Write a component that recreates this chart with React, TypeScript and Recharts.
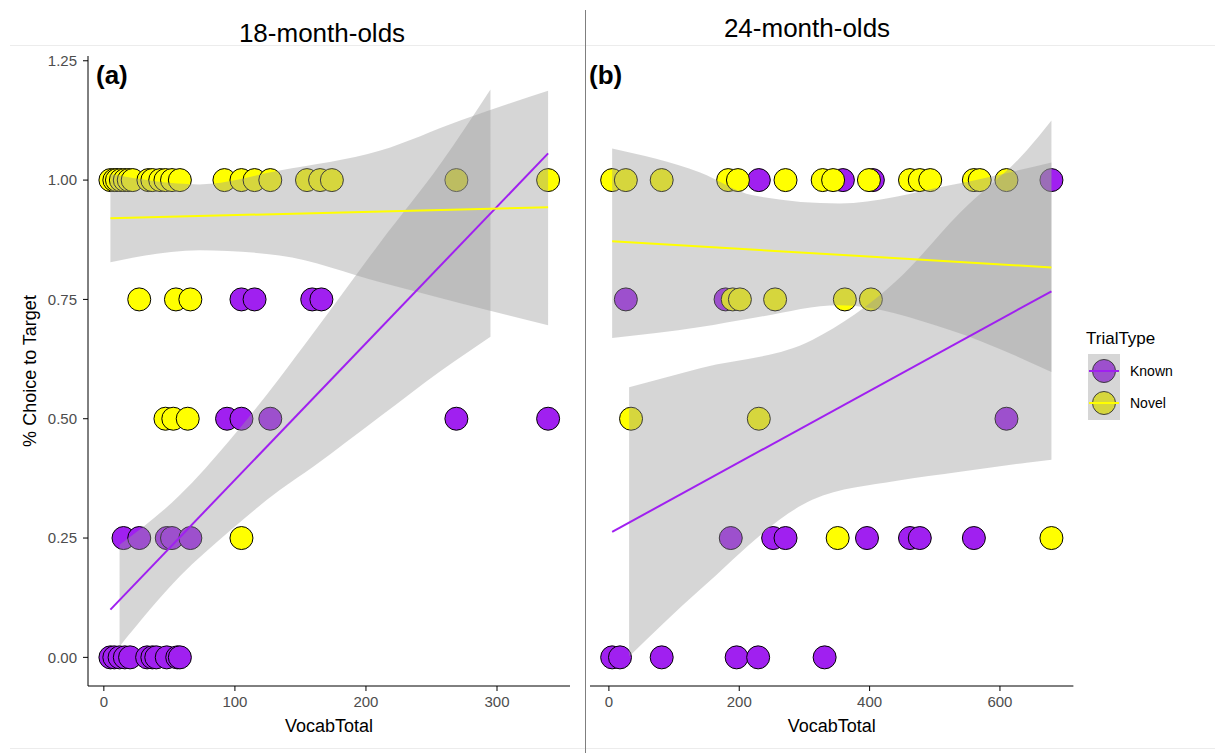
import React from 'react';
import { ComposedChart, Scatter, Area, Line, XAxis, YAxis } from 'recharts';

const PURPLE = '#A020F0';
const YELLOW = '#FFFF00';
const RIBBON = '#999999';
const FONT = '"Liberation Sans", Arial, sans-serif';

const yTicks = [0, 0.25, 0.5, 0.75, 1, 1.25];
const yDomain = [-0.06, 1.26];
const xTicks18 = [0, 100, 200, 300];
const xTicks24 = [0, 200, 400, 600];
const xDomain18 = [-12.1, 355.7];
const xDomain24 = [-29, 712.7];

const panelTitles = ['18-month-olds', '24-month-olds'];
const panelTags = ['(a)', '(b)'];
const xTitle = 'VocabTotal';
const yTitle = '% Choice to Target';
const legendTitle = 'TrialType';
const legendItems = [
  { label: 'Known', color: PURPLE },
  { label: 'Novel', color: YELLOW },
];

// ---- Panel (a): 18-month-olds ----
const known18 = [
  { x: 5, y: 0 }, { x: 8, y: 0 }, { x: 12, y: 0 }, { x: 16, y: 0 }, { x: 20, y: 0 },
  { x: 33, y: 0 }, { x: 37, y: 0 }, { x: 40, y: 0 }, { x: 48, y: 0 }, { x: 56, y: 0 }, { x: 58, y: 0 },
  { x: 15, y: 0.25 }, { x: 27, y: 0.25 }, { x: 48, y: 0.25 }, { x: 52, y: 0.25 }, { x: 66, y: 0.25 },
  { x: 94, y: 0.5 }, { x: 105, y: 0.5 }, { x: 127, y: 0.5 }, { x: 269, y: 0.5 }, { x: 339, y: 0.5 },
  { x: 105, y: 0.75 }, { x: 115, y: 0.75 }, { x: 159, y: 0.75 }, { x: 166, y: 0.75 },
];
const novel18 = [
  { x: 5, y: 1 }, { x: 8, y: 1 }, { x: 10, y: 1 }, { x: 13, y: 1 }, { x: 16, y: 1 }, { x: 19, y: 1 }, { x: 22, y: 1 },
  { x: 34, y: 1 }, { x: 37, y: 1 }, { x: 43, y: 1 }, { x: 47, y: 1 }, { x: 52, y: 1 }, { x: 58, y: 1 },
  { x: 92, y: 1 }, { x: 105, y: 1 }, { x: 115, y: 1 }, { x: 127, y: 1 },
  { x: 155, y: 1 }, { x: 165, y: 1 }, { x: 174, y: 1 }, { x: 269, y: 1 }, { x: 339, y: 1 },
  { x: 27, y: 0.75 }, { x: 55, y: 0.75 }, { x: 66, y: 0.75 },
  { x: 47, y: 0.5 }, { x: 53, y: 0.5 }, { x: 64, y: 0.5 },
  { x: 105, y: 0.25 },
];
const knownBand18 = [
  { x: 12, lo: 0.023, hi: 0.236 }, { x: 58, lo: 0.17, hi: 0.34 }, { x: 96, lo: 0.265, hi: 0.455 },
  { x: 134, lo: 0.35, hi: 0.585 }, { x: 160, lo: 0.4, hi: 0.68 }, { x: 211, lo: 0.505, hi: 0.87 },
  { x: 257, lo: 0.6, hi: 1.035 }, { x: 295, lo: 0.672, hi: 1.19 },
];
const novelBand18 = [
  { x: 5, lo: 0.828, hi: 1.012 }, { x: 73, lo: 0.853, hi: 0.991 }, { x: 134, lo: 0.842, hi: 1.02 },
  { x: 211, lo: 0.786, hi: 1.062 }, { x: 272, lo: 0.742, hi: 1.125 }, { x: 339, lo: 0.696, hi: 1.187 },
];
const knownFit18 = [{ x: 5, y: 0.1 }, { x: 339, y: 1.056 }];
const novelFit18 = [{ x: 5, y: 0.92 }, { x: 339, y: 0.943 }];

// ---- Panel (b): 24-month-olds ----
const known24 = [
  { x: 5, y: 0 }, { x: 17, y: 0 }, { x: 81, y: 0 }, { x: 196, y: 0 }, { x: 229, y: 0 }, { x: 331, y: 0 },
  { x: 187, y: 0.25 }, { x: 252, y: 0.25 }, { x: 271, y: 0.25 }, { x: 396, y: 0.25 }, { x: 462, y: 0.25 },
  { x: 477, y: 0.25 }, { x: 560, y: 0.25 },
  { x: 610, y: 0.5 },
  { x: 26, y: 0.75 }, { x: 179, y: 0.75 },
  { x: 230, y: 1 }, { x: 359, y: 1 }, { x: 405, y: 1 }, { x: 679, y: 1 },
];
const novel24 = [
  { x: 5, y: 1 }, { x: 26, y: 1 }, { x: 81, y: 1 }, { x: 183, y: 1 }, { x: 198, y: 1 }, { x: 271, y: 1 },
  { x: 328, y: 1 }, { x: 344, y: 1 }, { x: 399, y: 1 }, { x: 462, y: 1 }, { x: 477, y: 1 }, { x: 493, y: 1 },
  { x: 560, y: 1 }, { x: 569, y: 1 }, { x: 610, y: 1 },
  { x: 190, y: 0.75 }, { x: 201, y: 0.75 }, { x: 255, y: 0.75 }, { x: 362, y: 0.75 }, { x: 402, y: 0.75 },
  { x: 34, y: 0.5 }, { x: 230, y: 0.5 },
  { x: 351, y: 0.25 }, { x: 679, y: 0.25 },
];
const knownBand24 = [
  { x: 31, lo: 0.002, hi: 0.566 }, { x: 140, lo: 0.142, hi: 0.606 }, { x: 312, lo: 0.33, hi: 0.665 },
  { x: 442, lo: 0.37, hi: 0.79 }, { x: 539, lo: 0.389, hi: 0.932 }, { x: 641, lo: 0.408, hi: 1.062 },
  { x: 679, lo: 0.414, hi: 1.125 },
];
const novelBand24 = [
  { x: 5, lo: 0.669, hi: 1.066 }, { x: 140, lo: 0.692, hi: 1.016 }, { x: 221, lo: 0.711, hi: 0.968 },
  { x: 354, lo: 0.738, hi: 0.951 }, { x: 523, lo: 0.686, hi: 0.989 }, { x: 679, lo: 0.598, hi: 1.037 },
];
const knownFit24 = [{ x: 5, y: 0.263 }, { x: 679, y: 0.767 }];
const novelFit24 = [{ x: 5, y: 0.872 }, { x: 679, y: 0.817 }];

const H = 753;

const dot = (fill: string) => (props: any) => {
  if (props.cx == null || props.cy == null) return <g />;
  return <circle cx={props.cx} cy={props.cy} r={11.5} fill={fill} stroke="#000" strokeWidth={1} />;
};

const bandKey = (d: any) => [d.lo, d.hi];

type PanelProps = {
  left: number;
  width: number;
  margin: { top: number; right: number; bottom: number; left: number };
  xDomain: number[];
  xTicks: number[];
  showY: boolean;
  known: any[];
  novel: any[];
  knownBand: any[];
  novelBand: any[];
  knownFit: any[];
  novelFit: any[];
};

function Panel(p: PanelProps) {
  const boxStyle: React.CSSProperties = { position: 'absolute', left: p.left, top: 0 };
  return (
    <>
      <div style={boxStyle}>
        <ComposedChart width={p.width} height={H} margin={p.margin}>
          <XAxis
            type="number"
            dataKey="x"
            domain={p.xDomain}
            ticks={p.xTicks}
            allowDataOverflow
            height={48}
            stroke="#000"
            tickSize={5}
            tickMargin={5}
            tick={{ fill: '#4d4d4d', fontSize: 15, fontFamily: FONT }}
            label={{ value: xTitle, position: 'insideBottom', offset: 2, fill: '#000', fontSize: 18, fontFamily: FONT }}
          />
          <YAxis
            type="number"
            dataKey="y"
            domain={yDomain}
            ticks={yTicks}
            allowDataOverflow
            width={88}
            hide={!p.showY}
            stroke="#000"
            tickSize={5}
            tickMargin={6}
            tickFormatter={(v: number) => v.toFixed(2)}
            tick={{ fill: '#4d4d4d', fontSize: 15, fontFamily: FONT }}
            label={{
              value: yTitle,
              angle: -90,
              position: 'insideLeft',
              offset: 30,
              fill: '#000',
              fontSize: 18,
              fontFamily: FONT,
              style: { textAnchor: 'middle' },
            }}
          />
          <Scatter data={p.known} dataKey="y" shape={dot(PURPLE)} isAnimationActive={false} />
          <Scatter data={p.novel} dataKey="y" shape={dot(YELLOW)} isAnimationActive={false} />
        </ComposedChart>
      </div>
      <div style={{ ...boxStyle, pointerEvents: 'none' }}>
        <ComposedChart width={p.width} height={H} margin={p.margin}>
          <XAxis
            type="number"
            dataKey="x"
            domain={p.xDomain}
            ticks={p.xTicks}
            allowDataOverflow
            height={48}
            axisLine={false}
            tickLine={false}
            tick={false}
          />
          <YAxis
            type="number"
            domain={yDomain}
            ticks={yTicks}
            allowDataOverflow
            width={88}
            hide={!p.showY}
            axisLine={false}
            tickLine={false}
            tick={false}
          />
          <Area data={p.knownBand} dataKey={bandKey} type="monotone" stroke="none" fill={RIBBON} fillOpacity={0.4} isAnimationActive={false} />
          <Line data={p.knownFit} dataKey="y" stroke={PURPLE} strokeWidth={2} dot={false} activeDot={false} isAnimationActive={false} />
          <Area data={p.novelBand} dataKey={bandKey} type="monotone" stroke="none" fill={RIBBON} fillOpacity={0.4} isAnimationActive={false} />
          <Line data={p.novelFit} dataKey="y" stroke={YELLOW} strokeWidth={2} dot={false} activeDot={false} isAnimationActive={false} />
        </ComposedChart>
      </div>
    </>
  );
}

export default function App() {
  return (
    <div style={{ position: 'absolute', left: 0, top: 0, width: 1215, height: H, background: '#fff', overflow: 'hidden' }}>
      <Panel
        left={0}
        width={585}
        margin={{ top: 56, right: 15, bottom: H - 686 - 48, left: 0 }}
        xDomain={xDomain18}
        xTicks={xTicks18}
        showY
        known={known18}
        novel={novel18}
        knownBand={knownBand18}
        novelBand={novelBand18}
        knownFit={knownFit18}
        novelFit={novelFit18}
      />
      <Panel
        left={585}
        width={500}
        margin={{ top: 56, right: 11.6, bottom: H - 686 - 48, left: 5 }}
        xDomain={xDomain24}
        xTicks={xTicks24}
        showY={false}
        known={known24}
        novel={novel24}
        knownBand={knownBand24}
        novelBand={novelBand24}
        knownFit={knownFit24}
        novelFit={novelFit24}
      />
      <svg width={1215} height={H} style={{ position: 'absolute', left: 0, top: 0, pointerEvents: 'none' }}>
        <line x1={10} y1={45.5} x2={1215} y2={45.5} stroke="#ececec" strokeWidth={1} />
        <line x1={10} y1={748.5} x2={1215} y2={748.5} stroke="#ececec" strokeWidth={1} />
        <line x1={585.5} y1={10} x2={585.5} y2={H} stroke="#7f7f7f" strokeWidth={1} />
        <text x={322} y={42} textAnchor="middle" fontSize={26} fontFamily={FONT} fill="#000">{panelTitles[0]}</text>
        <text x={807} y={37} textAnchor="middle" fontSize={26} fontFamily={FONT} fill="#000">{panelTitles[1]}</text>
        <text x={96} y={84} fontSize={26} fontWeight="bold" fontFamily={FONT} fill="#000">{panelTags[0]}</text>
        <text x={589} y={84} fontSize={26} fontWeight="bold" fontFamily={FONT} fill="#000">{panelTags[1]}</text>
        <text x={1086} y={344} fontSize={17} fontFamily={FONT} fill="#000">{legendTitle}</text>
        <rect x={1088} y={354} width={32} height={66} fill="#fff" />
        {legendItems.map((it, i) => (
          <g key={it.label}>
            <circle cx={1104} cy={371 + i * 32} r={11.5} fill={it.color} stroke="#000" strokeWidth={1} />
          </g>
        ))}
        <rect x={1088} y={354} width={32} height={66} fill={RIBBON} fillOpacity={0.4} />
        {legendItems.map((it, i) => (
          <g key={it.label + 'l'}>
            <line x1={1089} y1={371 + i * 32} x2={1119} y2={371 + i * 32} stroke={it.color} strokeWidth={2} />
            <text x={1130} y={376 + i * 32} fontSize={14} fontFamily={FONT} fill="#000">{it.label}</text>
          </g>
        ))}
      </svg>
    </div>
  );
}
